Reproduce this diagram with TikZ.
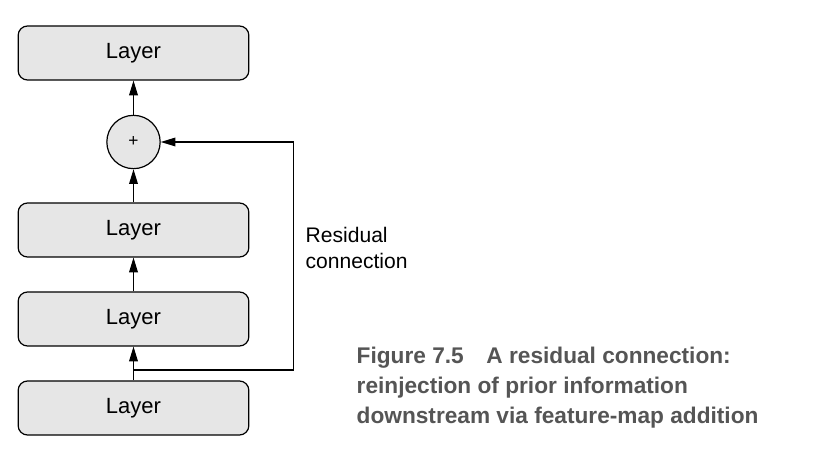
\documentclass[tikz,border=0pt]{standalone}
\usepackage{fontspec}
\setmainfont{Liberation Sans}
\usetikzlibrary{arrows.meta}
\usetikzlibrary{positioning}
\definecolor{boxgray}{HTML}{E6E6E6}
\definecolor{capgray}{HTML}{555555}

\tikzset{
  layer/.style={draw, fill=boxgray, rounded corners=7pt, minimum width=173pt, minimum height=40.5pt, line width=0.9pt, font=\fontsize{16.5}{19}\selectfont},
  addop/.style={draw, circle, fill=boxgray, minimum size=40pt, inner sep=0pt, line width=0.9pt, font=\fontsize{13}{15}\selectfont},
  flow/.style={line width=0.9pt, -{Triangle[length=11pt,width=6.5pt]}},
}

\begin{document}
\begin{tikzpicture}[x=0.75pt,y=-0.75pt]
  % frame
  \useasboundingbox (0,0) rectangle (818,470);
  % layers
  \node[layer] (layer1) at (133.5,408) {Layer};
  \node[layer] (layer2) at (133.5,319) {Layer};
  \node[layer] (layer3) at (133.5,230) {Layer};
  \node[addop] (plus) at (133.5,142) {+};
  \node[layer] (layer4) at (133.5,53) {Layer};
  % main flow
  \coordinate (split) at (133.5,370);
  \draw[line width=0.9pt] (layer1) -- (split);
  \draw[flow] (split) -- (layer2);
  \draw[flow] (layer2) -- (layer3);
  \draw[flow] (layer3) -- (plus);
  \draw[flow] (plus) -- (layer4);
  % residual connection
  \draw[flow] (split) -- ++(160,0) |- (plus);
  \node[anchor=west, align=left, font=\fontsize{15.8}{19.5}\selectfont] (residual) at (301,248) {Residual\\connection};
  % caption
  \node[anchor=north west, align=left, text=capgray, font=\bfseries\fontsize{17}{22.5}\selectfont] (caption) at (352,342) {Figure 7.5\quad A residual connection:\\reinjection of prior information\\downstream via feature-map addition};
\end{tikzpicture}
\end{document}
